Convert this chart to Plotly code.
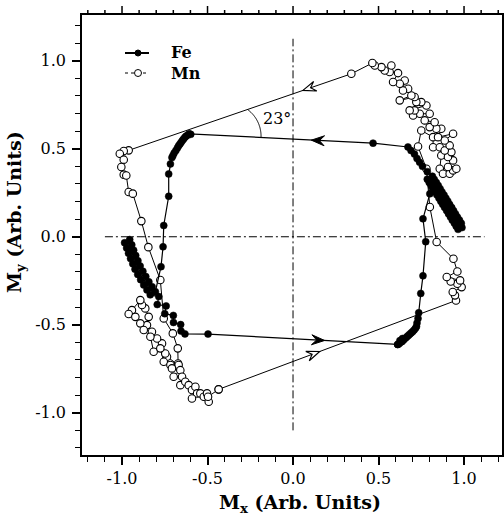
import math
import plotly.graph_objects as go

# ---------------- data ----------------
# Fe loop (filled circles), traversed counter-clockwise
fe_bottom_right_x = [0.612, 0.620, 0.625, 0.628, 0.636, 0.640, 0.645, 0.652, 0.660, 0.668, 0.676, 0.684, 0.692, 0.700, 0.708, 0.716, 0.722]
fe_bottom_right_y = [-0.612, -0.608, -0.590, -0.600, -0.596, -0.578, -0.588, -0.580, -0.574, -0.566, -0.559, -0.552, -0.545, -0.538, -0.530, -0.520, -0.510]
fe_right_rise_x = [0.725, 0.731, 0.735, 0.747, 0.760, 0.776, 0.760, 0.800]
fe_right_rise_y = [-0.490, -0.464, -0.432, -0.322, -0.222, -0.028, 0.102, 0.244]
fe_right_band_x = [0.785, 0.826, 0.808, 0.849, 0.830, 0.871, 0.853, 0.894, 0.875, 0.916, 0.898, 0.939, 0.920, 0.961,
                   0.943, 0.984, 0.965, 0.988,
                   0.954, 0.973, 0.931, 0.950, 0.909, 0.928, 0.886, 0.905, 0.864, 0.883, 0.841, 0.860, 0.819,
                   0.838, 0.796, 0.815]
fe_right_band_y = [0.327, 0.326, 0.291, 0.291, 0.256, 0.255, 0.220, 0.219, 0.185, 0.184, 0.149, 0.148, 0.113, 0.112,
                   0.078, 0.077, 0.042, 0.052,
                   0.060, 0.095, 0.095, 0.130, 0.131, 0.166, 0.167, 0.202, 0.202, 0.237, 0.238, 0.273, 0.274,
                   0.308, 0.309, 0.344]
fe_top_right_x = [0.785, 0.757, 0.740, 0.725, 0.710, 0.690, 0.672, 0.468]
fe_top_right_y = [0.370, 0.400, 0.424, 0.445, 0.470, 0.490, 0.510, 0.532]
fe_top_left_x = [-0.598, -0.607, -0.615, -0.625, -0.632, -0.640, -0.647, -0.655, -0.662, -0.669, -0.676, -0.685, -0.695, -0.702, -0.708]
fe_top_left_y = [0.582, 0.585, 0.578, 0.572, 0.565, 0.556, 0.547, 0.536, 0.526, 0.517, 0.505, 0.490, 0.476, 0.462, 0.450]
fe_left_fall_x = [-0.717, -0.727, -0.727, -0.756, -0.760, -0.772]
fe_left_fall_y = [0.414, 0.357, 0.230, 0.064, -0.057, -0.170]
fe_left_band_x = [-0.805, -0.854, -0.843, -0.891, -0.878, -0.924, -0.907, -0.950, -0.932, -0.973, -0.955, -0.985,
                  -0.943, -0.962, -0.920, -0.937, -0.894, -0.908, -0.861, -0.873, -0.824, -0.835, -0.785, -0.794,
                  -0.742, -0.750, -0.700, -0.699, -0.657, -0.655, -0.632]
fe_left_band_y = [-0.312, -0.302, -0.256, -0.244, -0.196, -0.184, -0.136, -0.124, -0.076, -0.064, -0.016, -0.034,
                  -0.046, -0.094, -0.106, -0.154, -0.166, -0.214, -0.226, -0.274, -0.284, -0.330, -0.340, -0.385,
                  -0.393, -0.437, -0.447, -0.487, -0.499, -0.536, -0.552]
fe_bottom_x = [-0.497]
fe_bottom_y = [-0.553]

# Mn loop (open circles), traversed counter-clockwise
mn_bottom_x = [-0.435, 0.953]
mn_bottom_y = [-0.867, -0.362]
mn_right_x = [0.947, 0.934, 0.986, 0.961, 0.922, 0.977, 0.899, 0.961, 0.938, 0.840, 0.800, 0.780, 0.731]
mn_right_y = [-0.333, -0.314, -0.286, -0.267, -0.254, -0.248, -0.229, -0.197, -0.125, -0.030, 0.169, 0.386, 0.513]
mn_top_right_x = [0.750, 0.819, 0.819, 0.858, 0.867, 0.858, 0.877, 0.916, 0.936, 0.955, 0.906, 0.936, 0.906, 0.926,
                  0.887, 0.916, 0.887, 0.936, 0.848, 0.867, 0.838, 0.799, 0.828, 0.770, 0.799, 0.741, 0.702, 0.711,
                  0.682, 0.780, 0.750, 0.721, 0.711, 0.624, 0.692, 0.673, 0.643, 0.653, 0.624, 0.585, 0.614, 0.565,
                  0.575, 0.536, 0.517, 0.478, 0.464]
mn_top_right_y = [0.604, 0.566, 0.509, 0.509, 0.462, 0.386, 0.358, 0.358, 0.377, 0.386, 0.396, 0.434, 0.453, 0.481,
                  0.490, 0.519, 0.547, 0.585, 0.566, 0.614, 0.614, 0.623, 0.651, 0.661, 0.699, 0.699, 0.689, 0.718,
                  0.718, 0.746, 0.765, 0.765, 0.794, 0.775, 0.803, 0.841, 0.831, 0.888, 0.869, 0.879, 0.930, 0.936,
                  0.973, 0.945, 0.964, 0.973, 0.987]
mn_top_x = [0.341]
mn_top_y = [0.926]
mn_left_x = [-0.961, -0.990, -1.013, -0.990, -1.004, -0.990, -0.975, -0.961, -0.937, -0.887, -0.846, -0.776, -0.756,
             -0.703, -0.674, -0.672]
mn_left_y = [0.491, 0.487, 0.472, 0.438, 0.396, 0.353, 0.348, 0.254, 0.245, 0.089, -0.059, -0.246, -0.464,
             -0.549, -0.634, -0.720]
mn_bottom_left_x = [-0.669, -0.737, -0.747, -0.766, -0.795, -0.825, -0.854, -0.844, -0.864, -0.883, -0.893, -0.942,
                    -0.961, -0.922, -0.893, -0.873, -0.834, -0.815, -0.776, -0.756, -0.717, -0.708, -0.659, -0.698,
                    -0.649, -0.659, -0.630, -0.610, -0.591, -0.571, -0.561, -0.591, -0.542, -0.522, -0.503, -0.493,
                    -0.497, -0.435]
mn_bottom_left_y = [-0.729, -0.682, -0.663, -0.606, -0.578, -0.540, -0.502, -0.455, -0.407, -0.388, -0.360, -0.417,
                    -0.439, -0.455, -0.492, -0.530, -0.568, -0.653, -0.634, -0.710, -0.729, -0.748, -0.758, -0.795,
                    -0.795, -0.843, -0.824, -0.843, -0.871, -0.852, -0.890, -0.919, -0.890, -0.909, -0.890, -0.9375,
                    -0.909, -0.867]

series_names = ["Fe", "Mn"]

# direction arrows: x of the tip on the straight connecting lines
fe_arrow_tip_x = [0.107, 0.185]
mn_arrow_tip_x = [0.058, 0.156]
angle_label = "23°"

x_tick_vals = [-1.0, -0.5, 0.0, 0.5, 1.0]
y_tick_vals = [-1.0, -0.5, 0.0, 0.5, 1.0]
x_tick_text = ["-1.0", "-0.5", "0.0", "0.5", "1.0"]
y_tick_text = ["-1.0", "-0.5", "0.0", "0.5", "1.0"]
minor_step = 0.1
x_title = "<b>M<sub>x</sub> (Arb. Units)</b>"
y_title = "<b>M<sub>y</sub> (Arb. Units)</b>"

# ---------------- assemble ----------------
fe_x = (fe_bottom_right_x + fe_right_rise_x + fe_right_band_x + fe_top_right_x + fe_top_left_x
        + fe_left_fall_x + fe_left_band_x + fe_bottom_x + fe_bottom_right_x[:1])
fe_y = (fe_bottom_right_y + fe_right_rise_y + fe_right_band_y + fe_top_right_y + fe_top_left_y
        + fe_left_fall_y + fe_left_band_y + fe_bottom_y + fe_bottom_right_y[:1])
mn_x = mn_bottom_x + mn_right_x + mn_top_right_x + mn_top_x + mn_left_x + mn_bottom_left_x
mn_y = mn_bottom_y + mn_right_y + mn_top_right_y + mn_top_y + mn_left_y + mn_bottom_left_y

W, H = 504, 521
ML, MR, MT, MB = 82, 2, 15, 66
PW, PH = W - ML - MR, H - MT - MB
XR = [-1.234, 1.222]
YR = [-1.24, 1.26]
SX = PW / (XR[1] - XR[0])
SY = PH / (YR[1] - YR[0])

FONT = "DejaVu Serif"

def px_to_paper(px, py):
    return (px - ML) / PW, (H - MB - py) / PH

def on_line(p, q, x):
    t = (x - p[0]) / (q[0] - p[0])
    return p[1] + t * (q[1] - p[1])

def arrow_path(tip, p_from, p_to, L=13.0, Wd=5.0, notch=0.62):
    ux = (p_to[0] - p_from[0]) * SX
    uy = -(p_to[1] - p_from[1]) * SY
    n = math.hypot(ux, uy)
    ux, uy = ux / n, uy / n
    nx, ny = -uy, ux
    offs = [(0, 0), (-L * ux + Wd * nx, -L * uy + Wd * ny), (-notch * L * ux, -notch * L * uy),
            (-L * ux - Wd * nx, -L * uy - Wd * ny)]
    pts = [(tip[0] + ox / SX, tip[1] - oy / SY) for ox, oy in offs]
    return "M " + " L ".join(f"{a:.5f},{b:.5f}" for a, b in pts) + " Z"

shapes = []
# dash-dot reference axes
shapes.append(dict(type="line", xref="x", yref="y", x0=-1.10, x1=1.12, y0=0, y1=0,
                   line=dict(color="black", width=1, dash="8px,3px,2px,3px"), layer="below"))
shapes.append(dict(type="line", xref="x", yref="y", x0=0, x1=0, y0=-1.10, y1=1.125,
                   line=dict(color="black", width=1, dash="8px,3px,2px,3px"), layer="below"))

# mirrored ticks on the top and right frame edges (paper coordinates so they are not clipped)
n_lo = math.ceil(XR[0] / minor_step - 1e-9)
n_hi = math.floor(XR[1] / minor_step + 1e-9)
for k in range(n_lo, n_hi + 1):
    v = round(k * minor_step, 6)
    ln = 9 if any(abs(v - t) < 1e-6 for t in x_tick_vals) else 5
    xp = (v - XR[0]) / (XR[1] - XR[0])
    shapes.append(dict(type="line", xref="paper", yref="paper", x0=xp, x1=xp, y0=1, y1=1 + ln / PH,
                       line=dict(color="black", width=1.5)))
n_lo = math.ceil(YR[0] / minor_step - 1e-9)
n_hi = math.floor(YR[1] / minor_step + 1e-9)
for k in range(n_lo, n_hi + 1):
    v = round(k * minor_step, 6)
    ln = 9 if any(abs(v - t) < 1e-6 for t in y_tick_vals) else 5
    yp = (v - YR[0]) / (YR[1] - YR[0])
    shapes.append(dict(type="line", xref="paper", yref="paper", x0=1, x1=1 + ln / PW, y0=yp, y1=yp,
                       line=dict(color="black", width=1.5)))

# Fe arrows (filled)
fe_top_a = (fe_top_right_x[-1], fe_top_right_y[-1])
fe_top_b = (fe_top_left_x[0], fe_top_left_y[0])
fe_bot_a = (fe_bottom_x[0], fe_bottom_y[0])
fe_bot_b = (fe_bottom_right_x[0], fe_bottom_right_y[0])
for tx, (a, b) in zip(fe_arrow_tip_x, [(fe_top_a, fe_top_b), (fe_bot_a, fe_bot_b)]):
    tip = (tx, on_line(a, b, tx))
    shapes.append(dict(type="path", xref="x", yref="y", path=arrow_path(tip, a, b),
                       fillcolor="black", line=dict(color="black", width=1)))
# Mn arrows (open)
mn_top_a = (mn_top_x[0], mn_top_y[0])
mn_top_b = (mn_left_x[0], mn_left_y[0])
mn_bot_a = (mn_bottom_x[0], mn_bottom_y[0])
mn_bot_b = (mn_bottom_x[1], mn_bottom_y[1])
for tx, (a, b) in zip(mn_arrow_tip_x, [(mn_top_a, mn_top_b), (mn_bot_a, mn_bot_b)]):
    tip = (tx, on_line(a, b, tx))
    shapes.append(dict(type="path", xref="x", yref="y", path=arrow_path(tip, a, b),
                       fillcolor="white", line=dict(color="black", width=1.1)))

# angle arc between the Mn and Fe top lines
cx = -0.38
cy = on_line(fe_top_b, fe_top_a, cx)
dx, dy = (fe_top_a[0] - fe_top_b[0]) * SX, -(fe_top_a[1] - fe_top_b[1]) * SY
dn = math.hypot(dx, dy)
dx, dy = dx / dn, dy / dn
R = 33.0
arc_pts = []
for k in range(0, 91):
    th = math.radians(k)
    px = R * (dx * math.cos(th) + dy * math.sin(th))
    py = R * (dy * math.cos(th) - dx * math.sin(th))
    xd, yd = cx + px / SX, cy - py / SY
    arc_pts.append((xd, yd))
    if yd >= on_line(mn_top_b, mn_top_a, xd):
        break
shapes.append(dict(type="path", xref="x", yref="y",
                   path="M " + " L ".join(f"{a:.5f},{b:.5f}" for a, b in arc_pts),
                   line=dict(color="black", width=1)))

# hand-drawn legend (line, marker, label) in the upper-left corner
legend_rows_py = [53, 73]
for name, py in zip(series_names, legend_rows_py):
    x0p, yp = px_to_paper(125, py)
    x1p, _ = px_to_paper(149, py)
    is_fe = name == "Fe"
    shapes.append(dict(type="line", xref="paper", yref="paper", x0=x0p, x1=x1p, y0=yp, y1=yp,
                       line=dict(color="black", width=2 if is_fe else 1, dash="solid" if is_fe else "dot")))
    r = 3.0 if is_fe else 3.5
    ca, cb = px_to_paper(138 - r, py - r)
    cc, cd = px_to_paper(138 + r, py + r)
    shapes.append(dict(type="circle", xref="paper", yref="paper", x0=ca, x1=cc, y0=cd, y1=cb,
                       fillcolor="black" if is_fe else "white", line=dict(color="black", width=1)))

fig = go.Figure()
fig.add_trace(go.Scatter(x=mn_x, y=mn_y, mode="lines+markers", name=series_names[1], showlegend=False,
                         line=dict(color="black", width=1),
                         marker=dict(symbol="circle", size=7.5, color="white", line=dict(color="black", width=1.1))))
fig.add_trace(go.Scatter(x=fe_x, y=fe_y, mode="lines+markers", name=series_names[0], showlegend=False,
                         line=dict(color="black", width=1.2),
                         marker=dict(symbol="circle", size=7, color="black", line=dict(color="black", width=0.5))))

for name, py in zip(series_names, legend_rows_py):
    xp, yp = px_to_paper(169, py)
    fig.add_annotation(x=xp, y=yp, xref="paper", yref="paper", xanchor="left", yanchor="middle",
                       text=f"<b>{name}</b>", showarrow=False, font=dict(family=FONT, size=16, color="black"))

fig.add_annotation(x=-0.091, y=0.670, xref="x", yref="y", text=angle_label, showarrow=False,
                   xanchor="center", yanchor="middle", font=dict(family=FONT, size=16, color="black"))
# axis titles
xp, yp = px_to_paper(300, 503)
fig.add_annotation(x=xp, y=yp, xref="paper", yref="paper", text=x_title, xanchor="center", yanchor="middle",
                   showarrow=False, font=dict(family=FONT, size=19, color="black"))
xp, yp = px_to_paper(15, 212)
fig.add_annotation(x=xp, y=yp, xref="paper", yref="paper", text=y_title, xanchor="center", yanchor="middle",
                   textangle=-90, showarrow=False, font=dict(family=FONT, size=19, color="black"))

axis_common = dict(showline=True, linecolor="black", linewidth=1.5, mirror=True, automargin=False,
                   ticks="outside", ticklen=8, tickwidth=1.5, tickcolor="black",
                   showgrid=False, zeroline=False, tick0=0,
                   tickfont=dict(family=FONT, size=16, color="black"),
                   minor=dict(dtick=minor_step, tick0=0, ticks="outside", ticklen=5, tickwidth=1.3,
                              tickcolor="black", showgrid=False))

fig.update_layout(
    width=W, height=H, margin=dict(l=ML, r=MR, t=MT, b=MB, autoexpand=False),
    plot_bgcolor="white", paper_bgcolor="white", shapes=shapes, font=dict(family=FONT),
    showlegend=False,
    xaxis=dict(range=XR, tickvals=x_tick_vals, ticktext=x_tick_text, **axis_common),
    yaxis=dict(range=YR, tickvals=y_tick_vals, ticktext=y_tick_text, ticklabelstandoff=3, **axis_common),
)

# the page's default 8px body margin would shift the whole figure; remove it. Hide the mode bar.
fig.write_html("out.html", config={"displayModeBar": False},
               post_script="document.body.style.margin='0px';")
